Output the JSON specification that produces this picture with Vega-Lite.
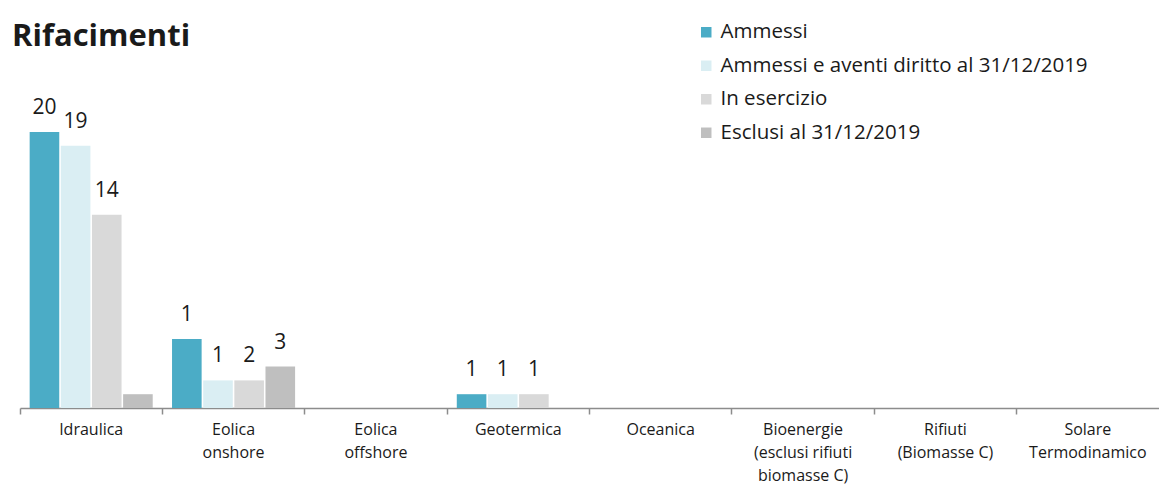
{
  "$schema": "https://vega.github.io/schema/vega-lite/v6.json",
  "width": 1139,
  "height": 276,
  "autosize": {"type": "none"},
  "padding": {"left": 20, "top": 132, "right": 0, "bottom": 78},
  "background": "white",
  "config": {
    "view": {"stroke": null},
    "font": "Open Sans"
  },
  "title": {
    "text": "Rifacimenti",
    "anchor": "start",
    "frame": "group",
    "fontSize": 31,
    "fontWeight": "bold",
    "color": "#1a1a1a",
    "dx": -8,
    "dy": 41,
    "offset": 10
  },
  "data": {
    "values": [
      {"categoria": "Idraulica", "serie": "Ammessi", "valore": 20, "etichetta": "20"},
      {"categoria": "Idraulica", "serie": "Ammessi e aventi diritto al 31/12/2019", "valore": 19, "etichetta": "19"},
      {"categoria": "Idraulica", "serie": "In esercizio", "valore": 14, "etichetta": "14"},
      {"categoria": "Idraulica", "serie": "Esclusi al 31/12/2019", "valore": 1, "etichetta": ""},
      {"categoria": "Eolica|onshore", "serie": "Ammessi", "valore": 5, "etichetta": "1"},
      {"categoria": "Eolica|onshore", "serie": "Ammessi e aventi diritto al 31/12/2019", "valore": 2, "etichetta": "1"},
      {"categoria": "Eolica|onshore", "serie": "In esercizio", "valore": 2, "etichetta": "2"},
      {"categoria": "Eolica|onshore", "serie": "Esclusi al 31/12/2019", "valore": 3, "etichetta": "3"},
      {"categoria": "Geotermica", "serie": "Ammessi", "valore": 1, "etichetta": "1"},
      {"categoria": "Geotermica", "serie": "Ammessi e aventi diritto al 31/12/2019", "valore": 1, "etichetta": "1"},
      {"categoria": "Geotermica", "serie": "In esercizio", "valore": 1, "etichetta": "1"}
    ]
  },
  "encoding": {
    "x": {
      "field": "categoria",
      "type": "nominal",
      "scale": {
        "domain": ["Idraulica", "Eolica|onshore", "Eolica|offshore", "Geotermica", "Oceanica", "Bioenergie|(esclusi rifiuti|biomasse C)", "Rifiuti|(Biomasse C)", "Solare|Termodinamico"],
        "paddingInner": 0,
        "paddingOuter": 0
      },
      "axis": {
        "title": null,
        "labelAngle": 0,
        "labelExpr": "split(datum.label, '|')",
        "labelFontSize": 16,
        "labelColor": "#1a1a1a",
        "labelLineHeight": 23,
        "labelPadding": 7,
        "labelBaseline": "top",
        "bandPosition": 0,
        "tickSize": 6,
        "tickColor": "#8c8c8c",
        "domainColor": "#8c8c8c",
        "domainWidth": 1.5,
        "tickWidth": 1.5,
        "labelLimit": 0
      }
    },
    "xOffset": {
      "field": "serie",
      "type": "nominal",
      "scale": {
        "domain": ["Ammessi", "Ammessi e aventi diritto al 31/12/2019", "In esercizio", "Esclusi al 31/12/2019"],
        "paddingInner": 0.05,
        "paddingOuter": 0.31
      }
    },
    "y": {
      "field": "valore",
      "type": "quantitative",
      "scale": {"domain": [0, 20], "nice": false},
      "axis": null
    }
  },
  "layer": [
    {
      "mark": {"type": "bar"},
      "encoding": {
        "color": {
          "field": "serie",
          "type": "nominal",
          "scale": {
            "domain": ["Ammessi", "Ammessi e aventi diritto al 31/12/2019", "In esercizio", "Esclusi al 31/12/2019"],
            "range": ["#4bacc6", "#daeef3", "#d9d9d9", "#bfbfbf"]
          },
          "legend": {
            "title": null,
            "orient": "none",
            "legendX": 676,
            "legendY": -110,
            "symbolType": "square",
            "symbolSize": 110,
            "symbolStrokeWidth": 0,
            "labelFontSize": 20.5,
            "labelColor": "#1a1a1a",
            "rowPadding": 12.5,
            "labelOffset": 4,
            "labelLimit": 0
          }
        }
      }
    },
    {
      "mark": {"type": "text", "dy": -24, "fontSize": 21, "color": "#1a1a1a"},
      "encoding": {
        "text": {"field": "etichetta"}
      }
    }
  ]
}
